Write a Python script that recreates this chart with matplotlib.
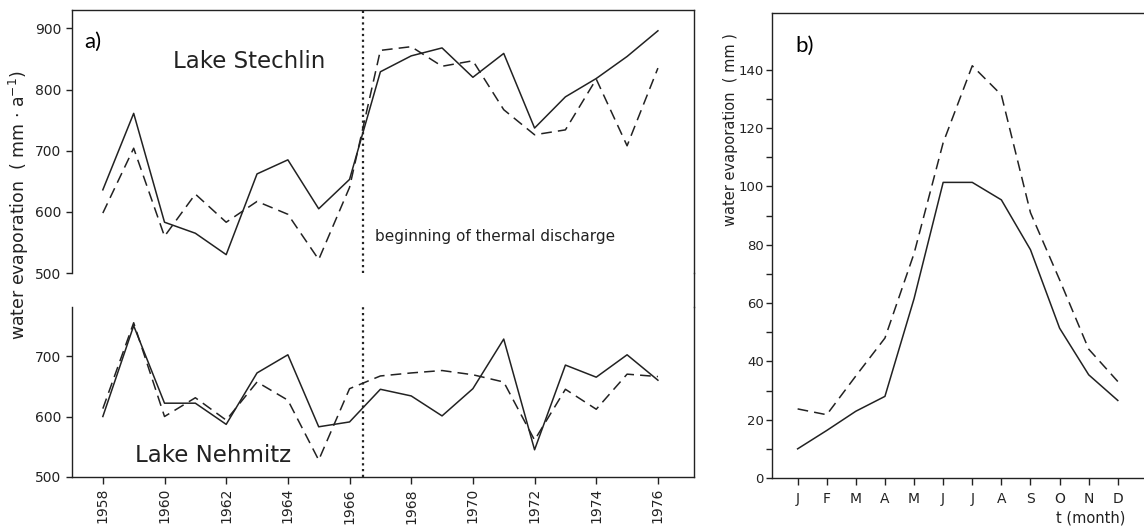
import matplotlib
matplotlib.use("Agg")
import matplotlib.pyplot as plt
from matplotlib.lines import Line2D

# ---------------- data ----------------
years = list(range(1958, 1977))
stechlin_solid = [636, 761, 583, 565, 530, 662, 685, 605, 653, 829, 855, 868, 820, 859, 737, 788, 818, 854, 896]
stechlin_dashed = [598, 704, 560, 629, 583, 617, 596, 522, 640, 864, 870, 838, 847, 767, 726, 734, 817, 708, 835]
nehmitz_solid = [600, 750, 622, 622, 587, 672, 702, 583, 591, 645, 634, 601, 646, 728, 545, 685, 665, 702, 660]
nehmitz_dashed = [613, 755, 600, 631, 594, 657, 627, 528, 646, 667, 672, 676, 669, 657, 561, 645, 612, 670, 666]
discharge_year = 1966.45

months = ["J", "F", "M", "A", "M", "J", "J", "A", "S", "O", "N", "D"]
month_solid = [10, 16.3, 22.9, 28, 61.5, 101.4, 101.4, 95.4, 78.3, 51.4, 35.4, 26.6]
month_dashed = [23.7, 21.7, 35, 48, 77, 115, 141.4, 131.4, 91, 68, 44.2, 33.1]

year_ticks = list(range(1958, 1977, 2))
top_yticks = [500, 600, 700, 800, 900]
bot_yticks = [500, 600, 700]
b_yticks = [0, 20, 40, 60, 80, 100, 120, 140]
b_minor = [10, 30, 50, 70, 90, 110, 130]

# ---------------- figure ----------------
W, H = 1144, 526
fig = plt.figure(figsize=(W / 100, H / 100), dpi=100)
plt.rcParams['font.family'] = ['DejaVu Sans']
ink = "#222222"
lw = 1.1
dash = (0, (7, 4))
dot = (0, (1, 1.6))

def fx(px):
    return px / W

def fy(py):
    return 1 - py / H

xl, xr = 72, 694
ax_top = fig.add_axes([fx(xl), fy(273), fx(xr - xl), (273 - 10) / H])
ax_bot = fig.add_axes([fx(xl), fy(477), fx(xr - xl), (477 - 307) / H])

for ax in (ax_top, ax_bot):
    ax.set_xlim(1957.0, 1977.17)
    for s in ax.spines.values():
        s.set_color(ink)
        s.set_linewidth(1.0)
    ax.tick_params(colors=ink, labelsize=10, direction="out", length=4, width=1.0)
    ax.axvline(discharge_year, color=ink, lw=1.6, linestyle=dot)

ax_top.plot(years, stechlin_solid, color=ink, lw=lw)
ax_top.plot(years, stechlin_dashed, color=ink, lw=lw, linestyle=dash)
ax_top.set_ylim(500, 930)
ax_top.set_yticks(top_yticks)
ax_top.set_xticks([])
ax_top.spines["bottom"].set_visible(False)

ax_bot.plot(years, nehmitz_solid, color=ink, lw=lw)
ax_bot.plot(years, nehmitz_dashed, color=ink, lw=lw, linestyle=dash)
ax_bot.set_ylim(500, 781)
ax_bot.set_yticks(bot_yticks)
ax_bot.spines["top"].set_visible(False)
ax_bot.set_xticks(year_ticks)
ax_bot.set_xticklabels([str(y) for y in year_ticks], rotation=90, fontsize=10)
ax_bot.tick_params(axis="x", length=5, pad=3)

# right spine continues through the gap
fig.add_artist(Line2D([fx(xr), fx(xr)], [fy(273), fy(307)], color=ink, lw=1.0,
                      transform=fig.transFigure))

fig.text(fx(93), fy(42), "a)", fontsize=16, family=["Lato", "DejaVu Sans"],
         ha="center", va="center", color="black")
fig.text(fx(173), fy(62), "Lake Stechlin", fontsize=16.5,
         color=ink, ha="left", va="center")
fig.text(fx(135), fy(456), "Lake Nehmitz", fontsize=16.5,
         color=ink, ha="left", va="center")
fig.text(fx(375), fy(237), "beginning of thermal discharge", fontsize=11,
         color=ink, ha="left", va="center")
fig.text(fx(19), fy(205), "water evaporation  ( mm $\\cdot$ a$^{-1}$)", rotation=90,
         fontsize=12.5, color=ink, ha="center", va="center")

# ---------------- panel b ----------------
bl = 772
ax_b = fig.add_axes([fx(bl), fy(478), fx(W - bl), (478 - 13) / H])
ax_b.plot(range(12), month_solid, color=ink, lw=lw)
ax_b.plot(range(12), month_dashed, color=ink, lw=lw, linestyle=dash)
ax_b.set_xlim(-0.88, 11.9)
ax_b.set_ylim(0, 159.5)
ax_b.set_xticks(range(12))
ax_b.set_xticklabels(months, fontsize=10)
ax_b.set_yticks(b_yticks)
ax_b.set_yticks(b_minor, minor=True)
ax_b.tick_params(axis="y", labelsize=9.5, direction="out", length=4, width=1.0, colors=ink, pad=2)
ax_b.tick_params(axis="y", which="minor", direction="out", length=4, width=1.0, colors=ink)
ax_b.tick_params(axis="x", direction="out", length=5, width=1.0, colors=ink, pad=5)
ax_b.spines["right"].set_visible(False)
for s in ("left", "top", "bottom"):
    ax_b.spines[s].set_color(ink)
    ax_b.spines[s].set_linewidth(1.0)

fig.text(fx(805), fy(46), "b)", fontsize=16, family=["Lato", "DejaVu Sans"],
         ha="center", va="center", color="black")
fig.text(fx(731), fy(130), "water evaporation  ( mm )", rotation=90, fontsize=10.5,
         color=ink, ha="center", va="center")
fig.text(fx(1091), fy(518), "t (month)", fontsize=10.5, color=ink, ha="center", va="center")

fig.savefig("out.png", dpi=100, facecolor="white")
